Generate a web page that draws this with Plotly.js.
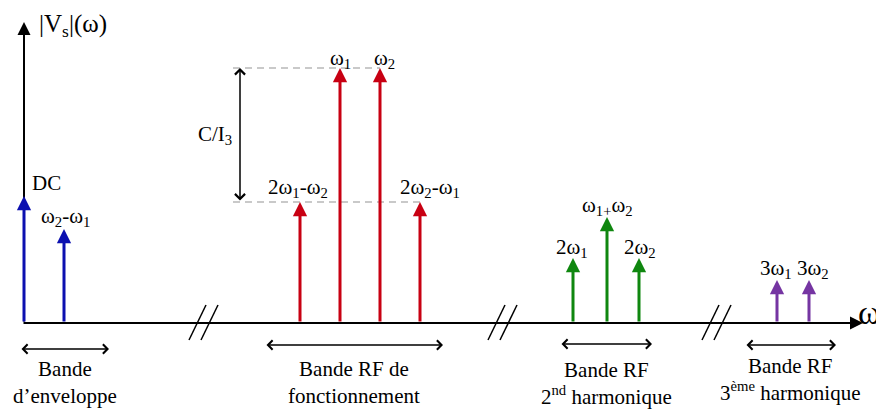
<!DOCTYPE html>
<html>
<head>
<meta charset="utf-8">
<script src="https://cdn.plot.ly/plotly-3.0.1.min.js"></script>
<style>html,body{margin:0;padding:0;background:#fff;}#chart{width:876px;height:409px;}</style>
</head>
<body>
<div id="chart"></div>
<script>
// ---- data ----
const compLabels = ['DC', 'ω<sub>2</sub>-ω<sub>1</sub>', '2ω<sub>1</sub>-ω<sub>2</sub>', 'ω<sub>1</sub>', 'ω<sub>2</sub>',
  '2ω<sub>2</sub>-ω<sub>1</sub>', '2ω<sub>1</sub>', 'ω<sub>1+</sub>ω<sub>2</sub>', '2ω<sub>2</sub>', '3ω<sub>1</sub>', '3ω<sub>2</sub>'];
const compFreq = [24, 64, 300, 340, 380, 420, 573, 607, 639, 777, 809];
const compAmp = [127, 94, 121, 255, 255, 121, 65, 106, 65, 43, 43];
const compGroup = [0, 0, 1, 1, 1, 1, 2, 2, 2, 3, 3];
const groupColors = ['#0c10b0', '#c80012', '#0f870f', '#7535a2'];

const bandLabels = ['Bande<br>d’enveloppe', 'Bande RF de<br>fonctionnement', 'Bande RF<br>2<sup>nd</sup> harmonique', 'Bande RF<br>3<sup>ème</sup> harmonique'];
const bandStart = [20, 265, 560, 745];
const bandEnd = [109, 443, 652, 836];

const breakPos = [189, 488, 702];
const yTitle = '|V<sub>s</sub>|(ω)';
const xTitle = 'ω';
const ratioLabel = 'C/I<sub>3</sub>';

// ---- drawing ----
const FONT = 'Liberation Serif, Times New Roman, serif';
const ann = [];
const shapes = [];

// axes arrows
ann.push({x: 24, y: 301, ax: 24, ay: 0, xref: 'x', yref: 'y', axref: 'x', ayref: 'y', text: '',
  showarrow: true, arrowhead: 2, arrowsize: 1.3, arrowwidth: 2, arrowcolor: '#000'});
ann.push({x: 863, y: 0, ax: 22, ay: 0, xref: 'x', yref: 'y', axref: 'x', ayref: 'y', text: '',
  showarrow: true, arrowhead: 2, arrowsize: 1.3, arrowwidth: 2, arrowcolor: '#000'});

// label offsets (dx, dy) relative to arrow tip
const lblOff = [[6, 13], [1, 12], [-2, 14], [0, 9], [4, 9], [10, 14], [-1, 10], [0, 11], [1, 10], [-1, 11], [4, 11]];

// dashed reference levels
const hiAmp = compAmp[3], loAmp = compAmp[2];
shapes.push({type: 'line', xref: 'x', yref: 'y', x0: 233, x1: compFreq[4], y0: hiAmp, y1: hiAmp,
  line: {color: '#b8b8b8', width: 1.5, dash: '7px,5px'}, layer: 'below'});
shapes.push({type: 'line', xref: 'x', yref: 'y', x0: 233, x1: compFreq[5], y0: loAmp, y1: loAmp,
  line: {color: '#b8b8b8', width: 1.5, dash: '7px,5px'}, layer: 'below'});

for (let i = 0; i < compFreq.length; i++) {
  const c = groupColors[compGroup[i]];
  ann.push({x: compFreq[i], y: compAmp[i], ax: compFreq[i], ay: 0, xref: 'x', yref: 'y', axref: 'x', ayref: 'y',
    text: '', showarrow: true, arrowhead: 2, arrowsize: 0.95, arrowwidth: 3, arrowcolor: c});
  ann.push({x: compFreq[i] + lblOff[i][0], y: compAmp[i] + lblOff[i][1], xref: 'x', yref: 'y',
    text: compLabels[i], showarrow: false, xanchor: i === 0 ? 'left' : 'center', yanchor: 'middle',
    font: {family: FONT, size: 21, color: '#000'}});
}

// C/I3 double arrow
ann.push({x: 240, y: hiAmp, ax: 240, ay: loAmp, xref: 'x', yref: 'y', axref: 'x', ayref: 'y', text: '',
  showarrow: true, arrowhead: 4, startarrowhead: 4, arrowside: 'end+start', arrowsize: 1.3, startarrowsize: 1.3,
  arrowwidth: 1.5, arrowcolor: '#000'});
ann.push({x: 215, y: (hiAmp + loAmp) / 2, xref: 'x', yref: 'y', text: ratioLabel, showarrow: false,
  xanchor: 'center', yanchor: 'middle', font: {family: FONT, size: 21, color: '#000'}});

// band arrows and labels
const bandY = [-26, -22, -21, -22];
const bandLblY = [-59.5, -59.5, -60, -56];
for (let i = 0; i < bandLabels.length; i++) {
  ann.push({x: bandEnd[i], y: bandY[i], ax: bandStart[i], ay: bandY[i], xref: 'x', yref: 'y', axref: 'x', ayref: 'y',
    text: '', showarrow: true, arrowhead: 4, startarrowhead: 4, arrowside: 'end+start', arrowsize: 1.2, startarrowsize: 1.2,
    arrowwidth: 1.5, arrowcolor: '#000'});
  ann.push({x: (bandStart[i] + bandEnd[i]) / 2, y: bandLblY[i], xref: 'x', yref: 'y', text: bandLabels[i],
    showarrow: false, xanchor: 'center', yanchor: 'middle', align: 'center',
    font: {family: FONT, size: 21, color: '#000'}});
}

// axis break marks
for (const b of breakPos) {
  for (const d of [0, 12]) {
    shapes.push({type: 'line', xref: 'x', yref: 'y', x0: b + d, y0: -17, x1: b + d + 17, y1: 18,
      line: {color: '#000', width: 1.5}});
  }
}

// titles
ann.push({x: 37, y: 298, xref: 'x', yref: 'y', text: yTitle, showarrow: false, xanchor: 'left', yanchor: 'middle',
  font: {family: FONT, size: 25, color: '#000'}});
ann.push({x: 856, y: 11, xref: 'x', yref: 'y', text: xTitle, showarrow: false, xanchor: 'left', yanchor: 'middle',
  font: {family: FONT, size: 34, color: '#000'}});

const data = [{x: compFreq, y: compAmp, type: 'scatter', mode: 'markers', marker: {opacity: 0}, hoverinfo: 'skip'}];
const layout = {
  width: 876, height: 409,
  margin: {l: 0, r: 0, t: 0, b: 0},
  paper_bgcolor: '#fff', plot_bgcolor: '#fff',
  showlegend: false,
  xaxis: {range: [0, 876], visible: false, fixedrange: true},
  yaxis: {range: [-86, 323], visible: false, fixedrange: true},
  annotations: ann,
  shapes: shapes
};
Plotly.newPlot('chart', data, layout, {displayModeBar: false, staticPlot: true});
</script>
</body>
</html>
